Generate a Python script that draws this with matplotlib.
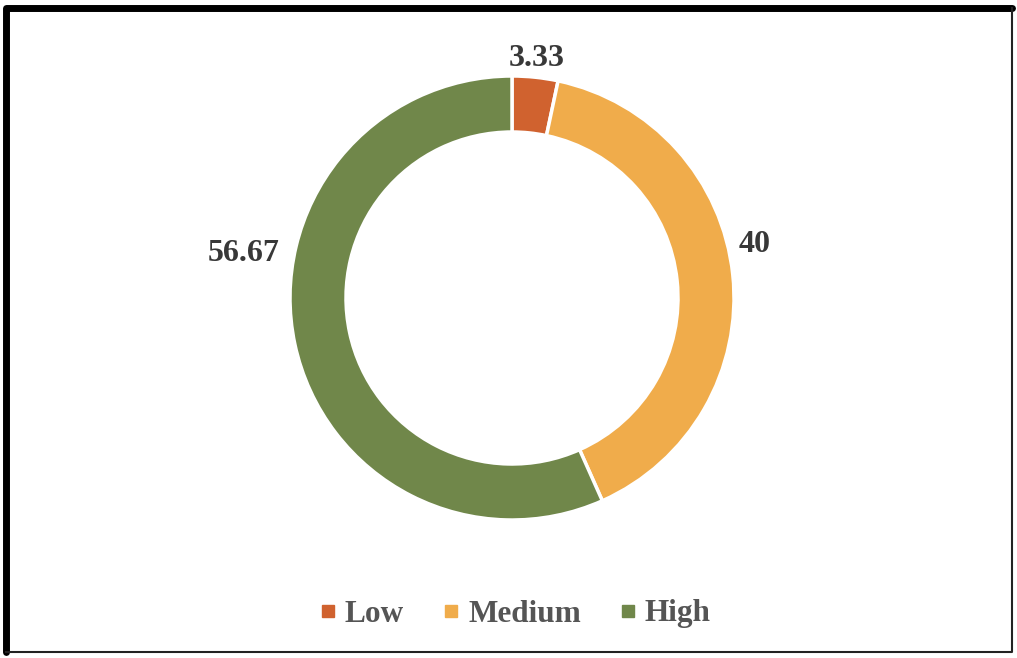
import matplotlib.pyplot as plt
from matplotlib.lines import Line2D
import numpy as np

categories = ["Low", "Medium", "High"]
values = [3.33, 40, 56.67]
value_labels = ["3.33", "40", "56.67"]
colors = ["#D0622F", "#F0AC4B", "#70874A"]

W, H = 1017, 658
fig = plt.figure(figsize=(W / 100, H / 100), dpi=100)
ax = fig.add_axes([0, 0, 1, 1])

cx, cy = 512, H - 298
r_out, width = 222, 56

ax.pie(values, colors=colors, startangle=90, counterclock=False,
       center=(cx, cy), radius=r_out,
       wedgeprops=dict(width=width, edgecolor="white", linewidth=2.5))
ax.set_xlim(0, W)
ax.set_ylim(0, H)
ax.set_aspect("equal")
ax.axis("off")

font = dict(family=["Liberation Serif", "DejaVu Serif"], weight="bold")

# data label placement (angle in degrees clockwise from top, distance from centre)
label_pos = [(5.9, 241), (77.5, 249), (-80.5, 272)]
for txt, (ang, dist) in zip(value_labels, label_pos):
    a = np.deg2rad(ang)
    ax.text(cx + dist * np.sin(a), cy + dist * np.cos(a), txt,
            ha="center", va="center", fontsize=23, color="#383838", **font)

handles = [Line2D([], [], marker="s", linestyle="none", markersize=8,
                  markerfacecolor=c, markeredgecolor=c) for c in colors]
fig.legend(handles, categories, loc="center", bbox_to_anchor=(0.506, 1 - 614 / H),
           ncol=3, frameon=False, handlelength=0.6, handletextpad=0.25,
           columnspacing=1.2, prop=dict(family="Liberation Serif", weight="bold", size=22.5),
           labelcolor="#555555")

# frame around the chart area
ax.plot([6, 6, 1012], [H - 652, H - 8, H - 8], color="black", lw=5,
        solid_capstyle="round", solid_joinstyle="round")
ax.plot([6, 1012, 1012], [H - 652, H - 652, H - 8], color="#222222", lw=1.5)

fig.savefig("out.png", dpi=100)
